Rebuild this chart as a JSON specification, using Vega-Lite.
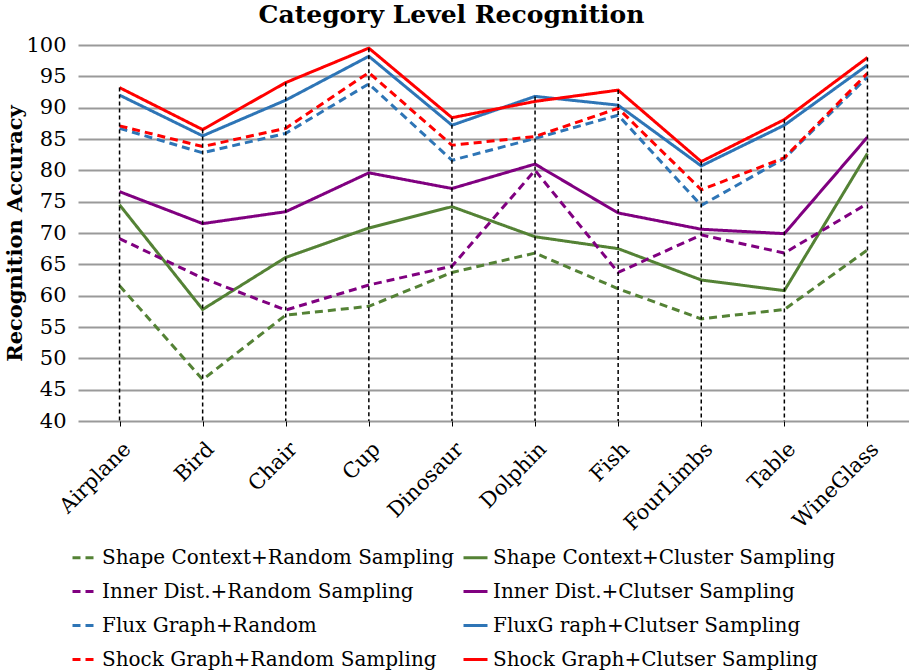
{
  "$schema": "https://vega.github.io/schema/vega-lite/v6.json",
  "width": 831,
  "height": 376,
  "autosize": {"type": "none"},
  "padding": {"left": 78, "top": 45, "right": 0, "bottom": 251},
  "background": "white",
  "title": {
    "text": "Category Level Recognition",
    "font": "DejaVu Serif",
    "fontSize": 25,
    "fontWeight": "bold",
    "color": "black",
    "offset": 6,
    "dx": -42
  },
  "data": {
    "values": [
      {"category": "Airplane", "series": "Shape Context+Random Sampling", "value": 61.6},
      {"category": "Bird", "series": "Shape Context+Random Sampling", "value": 46.6},
      {"category": "Chair", "series": "Shape Context+Random Sampling", "value": 56.9},
      {"category": "Cup", "series": "Shape Context+Random Sampling", "value": 58.3},
      {"category": "Dinosaur", "series": "Shape Context+Random Sampling", "value": 63.7},
      {"category": "Dolphin", "series": "Shape Context+Random Sampling", "value": 66.8},
      {"category": "Fish", "series": "Shape Context+Random Sampling", "value": 61.1},
      {"category": "FourLimbs", "series": "Shape Context+Random Sampling", "value": 56.3},
      {"category": "Table", "series": "Shape Context+Random Sampling", "value": 57.8},
      {"category": "WineGlass", "series": "Shape Context+Random Sampling", "value": 67.3},

      {"category": "Airplane", "series": "Shape Context+Cluster Sampling", "value": 74.5},
      {"category": "Bird", "series": "Shape Context+Cluster Sampling", "value": 57.8},
      {"category": "Chair", "series": "Shape Context+Cluster Sampling", "value": 66.1},
      {"category": "Cup", "series": "Shape Context+Cluster Sampling", "value": 70.8},
      {"category": "Dinosaur", "series": "Shape Context+Cluster Sampling", "value": 74.2},
      {"category": "Dolphin", "series": "Shape Context+Cluster Sampling", "value": 69.4},
      {"category": "Fish", "series": "Shape Context+Cluster Sampling", "value": 67.5},
      {"category": "FourLimbs", "series": "Shape Context+Cluster Sampling", "value": 62.5},
      {"category": "Table", "series": "Shape Context+Cluster Sampling", "value": 60.8},
      {"category": "WineGlass", "series": "Shape Context+Cluster Sampling", "value": 82.7},

      {"category": "Airplane", "series": "Inner Dist.+Random Sampling", "value": 69.1},
      {"category": "Bird", "series": "Inner Dist.+Random Sampling", "value": 62.8},
      {"category": "Chair", "series": "Inner Dist.+Random Sampling", "value": 57.7},
      {"category": "Cup", "series": "Inner Dist.+Random Sampling", "value": 61.7},
      {"category": "Dinosaur", "series": "Inner Dist.+Random Sampling", "value": 64.7},
      {"category": "Dolphin", "series": "Inner Dist.+Random Sampling", "value": 80.0},
      {"category": "Fish", "series": "Inner Dist.+Random Sampling", "value": 63.7},
      {"category": "FourLimbs", "series": "Inner Dist.+Random Sampling", "value": 69.7},
      {"category": "Table", "series": "Inner Dist.+Random Sampling", "value": 66.8},
      {"category": "WineGlass", "series": "Inner Dist.+Random Sampling", "value": 74.7},

      {"category": "Airplane", "series": "Inner Dist.+Clutser Sampling", "value": 76.6},
      {"category": "Bird", "series": "Inner Dist.+Clutser Sampling", "value": 71.5},
      {"category": "Chair", "series": "Inner Dist.+Clutser Sampling", "value": 73.4},
      {"category": "Cup", "series": "Inner Dist.+Clutser Sampling", "value": 79.6},
      {"category": "Dinosaur", "series": "Inner Dist.+Clutser Sampling", "value": 77.1},
      {"category": "Dolphin", "series": "Inner Dist.+Clutser Sampling", "value": 81.0},
      {"category": "Fish", "series": "Inner Dist.+Clutser Sampling", "value": 73.2},
      {"category": "FourLimbs", "series": "Inner Dist.+Clutser Sampling", "value": 70.6},
      {"category": "Table", "series": "Inner Dist.+Clutser Sampling", "value": 69.9},
      {"category": "WineGlass", "series": "Inner Dist.+Clutser Sampling", "value": 85.3},

      {"category": "Airplane", "series": "Flux Graph+Random", "value": 86.7},
      {"category": "Bird", "series": "Flux Graph+Random", "value": 82.8},
      {"category": "Chair", "series": "Flux Graph+Random", "value": 85.9},
      {"category": "Cup", "series": "Flux Graph+Random", "value": 93.8},
      {"category": "Dinosaur", "series": "Flux Graph+Random", "value": 81.6},
      {"category": "Dolphin", "series": "Flux Graph+Random", "value": 85.1},
      {"category": "Fish", "series": "Flux Graph+Random", "value": 88.8},
      {"category": "FourLimbs", "series": "Flux Graph+Random", "value": 74.4},
      {"category": "Table", "series": "Flux Graph+Random", "value": 81.9},
      {"category": "WineGlass", "series": "Flux Graph+Random", "value": 94.9},

      {"category": "Airplane", "series": "FluxG raph+Clutser Sampling", "value": 92.0},
      {"category": "Bird", "series": "FluxG raph+Clutser Sampling", "value": 85.5},
      {"category": "Chair", "series": "FluxG raph+Clutser Sampling", "value": 91.2},
      {"category": "Cup", "series": "FluxG raph+Clutser Sampling", "value": 98.2},
      {"category": "Dinosaur", "series": "FluxG raph+Clutser Sampling", "value": 87.2},
      {"category": "Dolphin", "series": "FluxG raph+Clutser Sampling", "value": 91.8},
      {"category": "Fish", "series": "FluxG raph+Clutser Sampling", "value": 90.4},
      {"category": "FourLimbs", "series": "FluxG raph+Clutser Sampling", "value": 80.7},
      {"category": "Table", "series": "FluxG raph+Clutser Sampling", "value": 87.2},
      {"category": "WineGlass", "series": "FluxG raph+Clutser Sampling", "value": 96.8},

      {"category": "Airplane", "series": "Shock Graph+Random Sampling", "value": 87.1},
      {"category": "Bird", "series": "Shock Graph+Random Sampling", "value": 83.8},
      {"category": "Chair", "series": "Shock Graph+Random Sampling", "value": 86.7},
      {"category": "Cup", "series": "Shock Graph+Random Sampling", "value": 95.6},
      {"category": "Dinosaur", "series": "Shock Graph+Random Sampling", "value": 84.0},
      {"category": "Dolphin", "series": "Shock Graph+Random Sampling", "value": 85.4},
      {"category": "Fish", "series": "Shock Graph+Random Sampling", "value": 89.9},
      {"category": "FourLimbs", "series": "Shock Graph+Random Sampling", "value": 76.9},
      {"category": "Table", "series": "Shock Graph+Random Sampling", "value": 82.0},
      {"category": "WineGlass", "series": "Shock Graph+Random Sampling", "value": 95.5},

      {"category": "Airplane", "series": "Shock Graph+Clutser Sampling", "value": 93.2},
      {"category": "Bird", "series": "Shock Graph+Clutser Sampling", "value": 86.5},
      {"category": "Chair", "series": "Shock Graph+Clutser Sampling", "value": 94.0},
      {"category": "Cup", "series": "Shock Graph+Clutser Sampling", "value": 99.5},
      {"category": "Dinosaur", "series": "Shock Graph+Clutser Sampling", "value": 88.4},
      {"category": "Dolphin", "series": "Shock Graph+Clutser Sampling", "value": 91.0},
      {"category": "Fish", "series": "Shock Graph+Clutser Sampling", "value": 92.8},
      {"category": "FourLimbs", "series": "Shock Graph+Clutser Sampling", "value": 81.4},
      {"category": "Table", "series": "Shock Graph+Clutser Sampling", "value": 88.1},
      {"category": "WineGlass", "series": "Shock Graph+Clutser Sampling", "value": 98.0}
    ]
  },
  "encoding": {
    "x": {
      "field": "category",
      "type": "nominal",
      "sort": null,
      "scale": {"type": "point", "padding": 0.5},
      "title": null,
      "axis": {
        "labelAngle": -45,
        "labelFont": "DejaVu Serif",
        "labelFontSize": 21,
        "labelColor": "black",
        "labelPadding": 12,
        "domain": false,
        "ticks": true,
        "tickColor": "black",
        "tickSize": 5,
        "grid": false
      }
    },
    "y": {
      "field": "value",
      "type": "quantitative",
      "scale": {"domain": [40, 100], "nice": false, "zero": false},
      "title": "Recognition Accuracy",
      "axis": {
        "values": [40, 45, 50, 55, 60, 65, 70, 75, 80, 85, 90, 95, 100],
        "labelOverlap": false,
        "labelFont": "DejaVu Serif",
        "labelFontSize": 21,
        "labelColor": "black",
        "labelPadding": 12,
        "domain": false,
        "ticks": false,
        "grid": true,
        "gridColor": "#9a9a9a",
        "gridWidth": 2,
        "titleFont": "DejaVu Serif",
        "titleFontSize": 21,
        "titleFontWeight": "bold",
        "titleColor": "black",
        "titleX": -63,
        "titleY": 188,
        "titleBaseline": "middle"
      }
    }
  },
  "layer": [
    {
      "mark": {"type": "line", "strokeWidth": 3},
      "encoding": {
        "color": {
          "field": "series",
          "type": "nominal",
          "title": null,
          "scale": {
            "domain": [
              "Shape Context+Random Sampling",
              "Inner Dist.+Random Sampling",
              "Flux Graph+Random",
              "Shock Graph+Random Sampling",
              "Shape Context+Cluster Sampling",
              "Inner Dist.+Clutser Sampling",
              "FluxG raph+Clutser Sampling",
              "Shock Graph+Clutser Sampling"
            ],
            "range": ["#548235", "#800080", "#2e75b6", "#ff0000", "#548235", "#800080", "#2e75b6", "#ff0000"]
          },
          "legend": {
            "orient": "none",
            "legendX": -7,
            "legendY": 499,
            "columns": 2,
            "symbolType": "stroke",
            "symbolSize": 576,
            "symbolStrokeWidth": 3,
            "labelFont": "DejaVu Serif",
            "labelFontSize": 20,
            "labelColor": "black",
            "labelOffset": 4,
            "labelLimit": 400,
            "rowPadding": 10,
            "columnPadding": 2
          }
        },
        "strokeDash": {
          "field": "series",
          "type": "nominal",
          "title": null,
          "scale": {
            "domain": [
              "Shape Context+Random Sampling",
              "Inner Dist.+Random Sampling",
              "Flux Graph+Random",
              "Shock Graph+Random Sampling",
              "Shape Context+Cluster Sampling",
              "Inner Dist.+Clutser Sampling",
              "FluxG raph+Clutser Sampling",
              "Shock Graph+Clutser Sampling"
            ],
            "range": [[8, 5], [8, 5], [8, 5], [8, 5], [1, 0], [1, 0], [1, 0], [1, 0]]
          }
        }
      }
    },
    {
      "mark": {"type": "rule", "color": "black", "strokeWidth": 1.5, "strokeDash": [4, 3]},
      "encoding": {
        "y": {"aggregate": "max", "field": "value", "type": "quantitative"},
        "y2": {"datum": 40}
      }
    }
  ],
  "config": {
    "font": "DejaVu Serif",
    "view": {"stroke": null}
  }
}
